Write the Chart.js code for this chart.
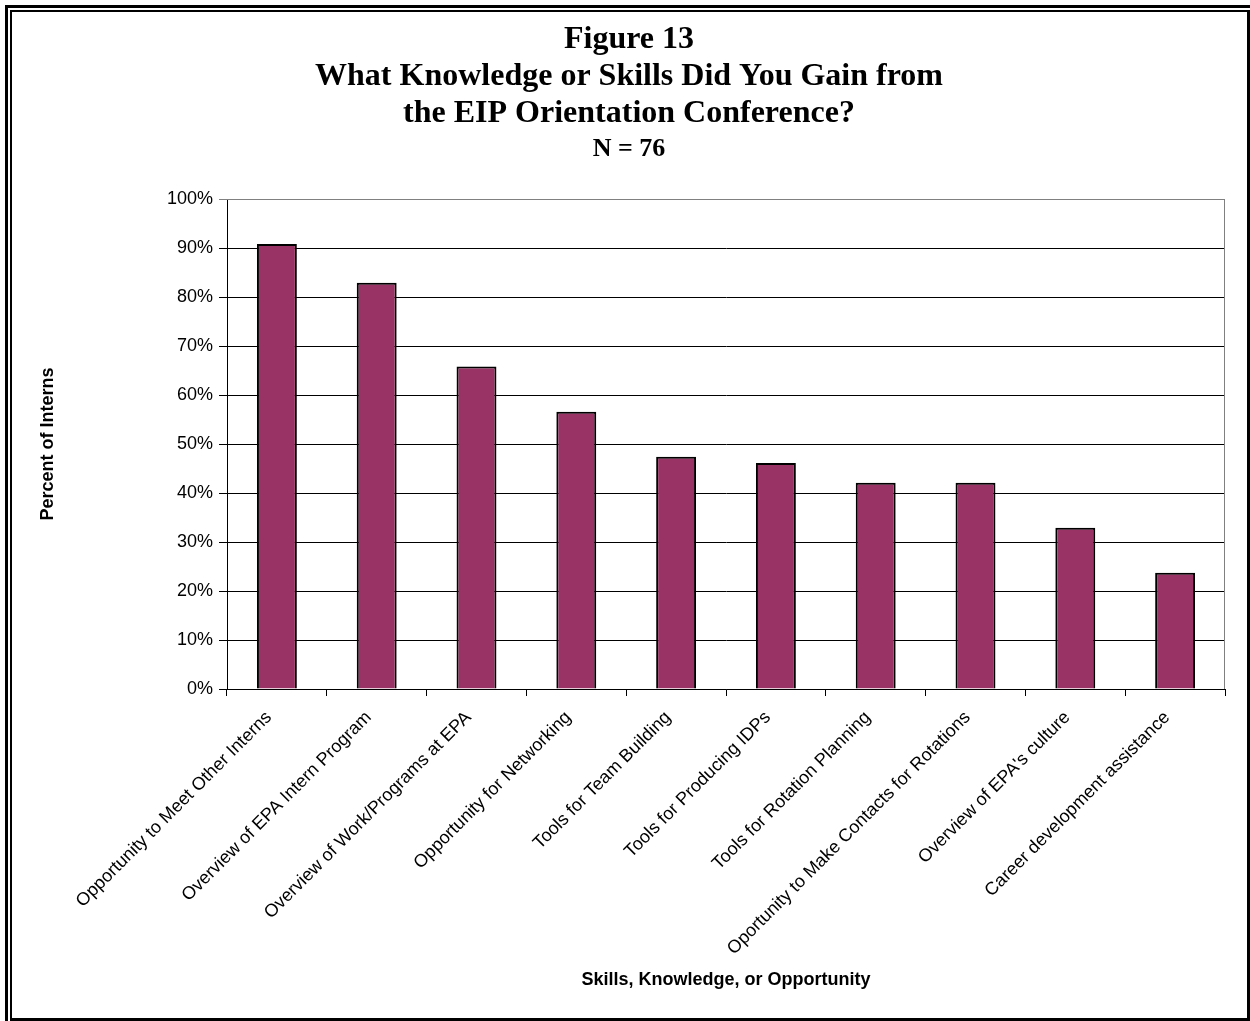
<!DOCTYPE html>
<html>
<head>
<meta charset="utf-8">
<script src="https://cdn.jsdelivr.net/npm/chart.js@4/dist/chart.umd.min.js"></script>
<style>
  html, body { margin: 0; padding: 0; background: #fff; }
  #wrap { position: relative; width: 1250px; height: 1021px; }
  canvas { display: block; }
</style>
</head>
<body>
<div id="wrap"><canvas id="c" width="1250" height="1021"></canvas></div>
<script>
const categories = [
  "Opportunity to Meet Other Interns",
  "Overview of EPA Intern Program",
  "Overview of Work/Programs at EPA",
  "Opportunity for Networking",
  "Tools for Team Building",
  "Tools for Producing IDPs",
  "Tools for Rotation Planning",
  "Oportunity to Make Contacts for Rotations",
  "Overview of EPA's culture",
  "Career development assistance"
];
const percentValues = [90.8, 82.9, 65.8, 56.6, 47.4, 46.1, 42.1, 42.1, 32.9, 23.7];
const titleLines = ["Figure 13", "What Knowledge or Skills Did You Gain from", "the EIP Orientation Conference?"];
const subtitleText = "N = 76";
const yAxisTitle = "Percent of Interns";
const xAxisTitle = "Skills, Knowledge, or Opportunity";

const framePlugin = {
  id: 'frame',
  afterDraw(chart) {
    const ctx = chart.ctx;
    const a = chart.chartArea;
    ctx.save();
    ctx.strokeStyle = '#808080';
    ctx.lineWidth = 1;
    ctx.beginPath();
    ctx.moveTo(a.left, a.top + 0.5);
    ctx.lineTo(a.right, a.top + 0.5);
    ctx.moveTo(a.right - 0.5, a.top);
    ctx.lineTo(a.right - 0.5, a.bottom);
    ctx.stroke();
    ctx.fillStyle = '#000';
    ctx.fillRect(5, 5, 3, 1016);
    ctx.fillRect(5, 5, 1245, 3);
    ctx.fillRect(10, 10, 2, 1011);
    ctx.fillRect(10, 10, 1240, 2);
    ctx.fillRect(1247, 10, 3, 1011);
    ctx.fillRect(10, 1018, 1240, 3);
    ctx.restore();
  }
};

new Chart(document.getElementById('c'), {
  type: 'bar',
  data: {
    labels: categories,
    datasets: [{
      data: percentValues,
      backgroundColor: '#993366',
      borderColor: '#000000',
      borderWidth: 2,
      barPercentage: 0.4,
      categoryPercentage: 1.0
    }]
  },
  options: {
    responsive: false,
    animation: false,
    devicePixelRatio: 1,
    layout: { padding: { left: 33, right: 25, top: 10, bottom: 26 } },
    plugins: {
      legend: { display: false },
      tooltip: { enabled: false },
      title: {
        display: true,
        text: titleLines,
        color: '#000',
        font: { family: '"Liberation Serif", "Times New Roman", serif', size: 32, weight: 'bold', lineHeight: '37px' },
        padding: { top: 11, bottom: 1.5 }
      },
      subtitle: {
        display: true,
        text: subtitleText,
        color: '#000',
        font: { family: '"Liberation Serif", "Times New Roman", serif', size: 26, weight: 'bold', lineHeight: '31px' },
        padding: { top: 0, bottom: 34.5 }
      }
    },
    scales: {
      x: {
        afterFit(scale) { scale.height = 306; },
        grid: {
          display: true,
          offset: true,
          drawOnChartArea: false,
          drawTicks: true,
          tickLength: 7,
          color: '#000'
        },
        border: { display: true, color: '#000', width: 1 },
        ticks: {
          color: '#000',
          font: { family: '"Liberation Sans", Arial, sans-serif', size: 18 },
          maxRotation: 45,
          minRotation: 45,
          autoSkip: false,
          padding: 11,
          labelOffset: -8
        },
        title: {
          display: true,
          text: xAxisTitle,
          color: '#000',
          font: { family: '"Liberation Sans", Arial, sans-serif', size: 18, weight: 'bold' },
          padding: { top: 4, bottom: 4 }
        }
      },
      y: {
        min: 0,
        max: 100,
        afterFit(scale) { scale.width = 194; },
        grid: {
          color: (ctx) => (ctx.tick && ctx.tick.value === 100) ? '#808080' : '#000',
          lineWidth: 1,
          drawTicks: true,
          tickLength: 8
        },
        border: { display: true, color: '#000', width: 1 },
        ticks: {
          stepSize: 10,
          color: '#000',
          padding: 6,
          font: { family: '"Liberation Sans", Arial, sans-serif', size: 18 },
          callback: (v) => v + '%'
        },
        title: {
          display: true,
          text: yAxisTitle,
          color: '#000',
          font: { family: '"Liberation Sans", Arial, sans-serif', size: 18, weight: 'bold' },
          padding: { top: 4, bottom: 4 }
        }
      }
    }
  },
  plugins: [framePlugin]
});
</script>
</body>
</html>
